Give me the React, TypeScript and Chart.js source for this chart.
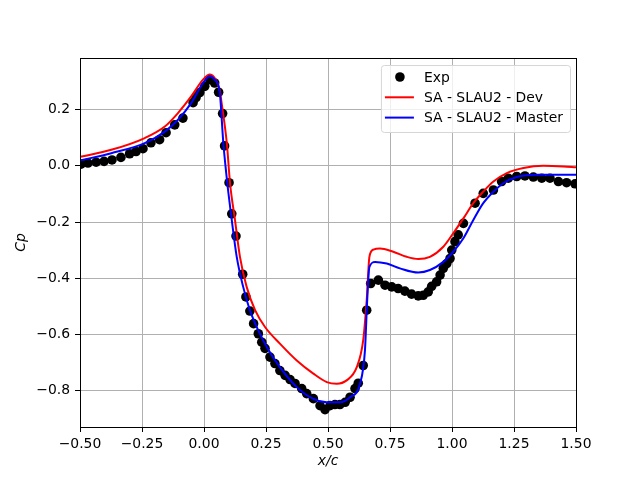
import { Chart, registerables } from "chart.js";
import React, { useEffect, useRef } from "react";

Chart.register(...registerables);

// experimental Cp
const expX = [
  -0.496, -0.468, -0.435, -0.403, -0.371, -0.335, -0.3, -0.274, -0.246, -0.214,
  -0.179, -0.153, -0.118, -0.085, -0.044, -0.032, -0.017, 0.003, 0.023, 0.043,
  0.059, 0.075, 0.083, 0.101, 0.112, 0.129, 0.156, 0.169, 0.185, 0.2,
  0.219, 0.233, 0.246, 0.266, 0.286, 0.306, 0.327, 0.347, 0.367, 0.394,
  0.414, 0.441, 0.468, 0.488, 0.508, 0.528, 0.548, 0.569, 0.589, 0.609,
  0.622, 0.642, 0.656, 0.672, 0.703, 0.73, 0.757, 0.783, 0.81, 0.837,
  0.864, 0.884, 0.904, 0.918, 0.938, 0.952, 0.965, 0.979, 0.992, 0.999,
  1.012, 1.025, 1.046, 1.093, 1.126, 1.167, 1.2, 1.227, 1.261, 1.294,
  1.328, 1.362, 1.395, 1.429, 1.462, 1.496,
];
const expY = [
  0.006, 0.01, 0.013, 0.016, 0.021, 0.03, 0.043, 0.051, 0.061, 0.082,
  0.093, 0.118, 0.146, 0.17, 0.225, 0.243, 0.261, 0.283, 0.307, 0.295,
  0.262, 0.186, 0.071, -0.06, -0.171, -0.25, -0.386, -0.467, -0.517, -0.562,
  -0.598, -0.628, -0.65, -0.681, -0.704, -0.729, -0.746, -0.761, -0.775, -0.793,
  -0.811, -0.829, -0.854, -0.868, -0.854, -0.85, -0.85, -0.842, -0.824, -0.793,
  -0.774, -0.711, -0.514, -0.419, -0.407, -0.425, -0.431, -0.437, -0.446, -0.457,
  -0.463, -0.461, -0.449, -0.429, -0.413, -0.389, -0.365, -0.348, -0.33, -0.3,
  -0.27, -0.246, -0.205, -0.133, -0.098, -0.086, -0.056, -0.044, -0.038, -0.036,
  -0.04, -0.044, -0.044, -0.056, -0.06, -0.064,
];

// SA - SLAU2 - Dev
const devX = [
  -0.5, -0.374, -0.239, -0.158, -0.105, -0.051, -0.004, 0.023, 0.043, 0.063,
  0.071, 0.092, 0.105, 0.125, 0.145, 0.172, 0.206, 0.246, 0.306, 0.374,
  0.441, 0.495, 0.535, 0.575, 0.616, 0.642, 0.656, 0.667, 0.683, 0.71,
  0.763, 0.817, 0.864, 0.911, 0.965, 1.005, 1.046, 1.086, 1.126, 1.167,
  1.221, 1.288, 1.368, 1.449, 1.5,
];
const devY = [
  0.032, 0.057, 0.099, 0.14, 0.188, 0.248, 0.307, 0.325, 0.313, 0.271,
  0.224, 0.081, -0.062, -0.193, -0.324, -0.431, -0.514, -0.574, -0.633, -0.693,
  -0.74, -0.77, -0.776, -0.764, -0.717, -0.621, -0.479, -0.324, -0.298, -0.294,
  -0.306, -0.324, -0.332, -0.324, -0.288, -0.24, -0.187, -0.133, -0.092, -0.056,
  -0.026, -0.008, 0.0, -0.002, -0.005,
];

// SA - SLAU2 - Master
const masterX = [
  -0.5, -0.374, -0.239, -0.158, -0.105, -0.051, -0.004, 0.023, 0.043, 0.063,
  0.078, 0.094, 0.112, 0.132, 0.158, 0.185, 0.219, 0.253, 0.306, 0.374,
  0.441, 0.495, 0.548, 0.589, 0.629, 0.649, 0.658, 0.667, 0.69, 0.737,
  0.79, 0.864, 0.911, 0.965, 1.005, 1.046, 1.086, 1.126, 1.167, 1.207,
  1.261, 1.342, 1.422, 1.5,
];
const masterY = [
  0.019, 0.045, 0.081, 0.122, 0.164, 0.224, 0.295, 0.319, 0.307, 0.265,
  0.081, -0.062, -0.193, -0.324, -0.431, -0.514, -0.586, -0.645, -0.717, -0.788,
  -0.83, -0.842, -0.842, -0.824, -0.776, -0.657, -0.479, -0.36, -0.342, -0.348,
  -0.365, -0.38, -0.371, -0.342, -0.306, -0.258, -0.193, -0.133, -0.092, -0.062,
  -0.04, -0.032, -0.032, -0.032,
];

const xTicks = [-0.5, -0.25, 0, 0.25, 0.5, 0.75, 1.0, 1.25, 1.5];
const yTicks = [-0.8, -0.6, -0.4, -0.2, 0.0, 0.2];

const pts = (xs: number[], ys: number[]) => xs.map((x, i) => ({ x, y: ys[i] }));
const minus = (s: string) => s.replace("-", "\u2212");
const FONT = "'DejaVu Sans', sans-serif";
const SIZE = 13.9;

// matplotlib-style box + legend inside the axes
const framePlugin = {
  id: "frame",
  afterDraw(chart: any) {
    const { ctx, chartArea } = chart;
    ctx.save();
    ctx.strokeStyle = "#000";
    ctx.lineWidth = 1;
    ctx.strokeRect(
      Math.round(chartArea.left) + 0.5,
      Math.round(chartArea.top) + 0.5,
      Math.round(chartArea.right - chartArea.left),
      Math.round(chartArea.bottom - chartArea.top)
    );

    const sets = [0, 1, 2].map((i) => chart.data.datasets[i]);
    ctx.font = `${SIZE}px ${FONT}`;
    const textW = Math.max(...sets.map((d: any) => ctx.measureText(d.label).width));
    const w = 43 + textW + 7;
    const h = 67;
    const bx = chartArea.right - 6 - w;
    const by = chartArea.top + 7;
    ctx.beginPath();
    ctx.roundRect(bx + 0.5, by + 0.5, w, h, 3);
    ctx.fillStyle = "rgba(255,255,255,0.8)";
    ctx.fill();
    ctx.strokeStyle = "#d6d6d6";
    ctx.stroke();
    ctx.textBaseline = "middle";
    sets.forEach((d: any, i: number) => {
      const cy = by + 12 + i * 20.3;
      if (d.showLine === false) {
        ctx.beginPath();
        ctx.arc(bx + 19, cy, 4.8, 0, Math.PI * 2);
        ctx.fillStyle = d.pointBackgroundColor;
        ctx.fill();
      } else {
        ctx.beginPath();
        ctx.moveTo(bx + 4, cy);
        ctx.lineTo(bx + 33, cy);
        ctx.strokeStyle = d.borderColor;
        ctx.lineWidth = 2;
        ctx.stroke();
      }
      ctx.fillStyle = "#000";
      ctx.fillText(d.label, bx + 43, cy + 1);
    });
    ctx.restore();
  },
};

const App: React.FC = () => {
  const canvasRef = useRef<HTMLCanvasElement | null>(null);

  useEffect(() => {
    if (!canvasRef.current) return;
    const tickFont = { family: FONT, size: SIZE };
    const chart = new Chart(canvasRef.current, {
      type: "line",
      data: {
        datasets: [
          {
            label: "Exp",
            data: pts(expX, expY),
            showLine: false,
            pointRadius: 4.8,
            pointBackgroundColor: "#000",
            pointBorderWidth: 0,
            borderColor: "#000",
            order: 3,
          },
          {
            label: "SA - SLAU2 - Dev",
            data: pts(devX, devY),
            borderColor: "#ff0000",
            borderWidth: 2,
            pointRadius: 0,
            cubicInterpolationMode: "monotone",
            order: 2,
          },
          {
            label: "SA - SLAU2 - Master",
            data: pts(masterX, masterY),
            borderColor: "#0000ff",
            borderWidth: 2,
            pointRadius: 0,
            cubicInterpolationMode: "monotone",
            order: 1,
          },
        ] as any,
      },
      options: {
        animation: false,
        responsive: false,
        devicePixelRatio: 1,
        layout: { padding: { left: 0, right: 64, top: 58, bottom: 0 } },
        plugins: { legend: { display: false }, tooltip: { enabled: false } },
        scales: {
          x: {
            type: "linear",
            min: -0.5,
            max: 1.5,
            afterFit: (s: any) => { s.height = 53; },
            afterBuildTicks: (s: any) => { s.ticks = xTicks.map((value) => ({ value })); },
            grid: { color: "#b0b0b0", lineWidth: 1, tickColor: "#000", tickLength: 5 },
            border: { color: "#000", width: 1 },
            ticks: {
              color: "#000",
              font: tickFont,
              padding: 4,
              maxRotation: 0,
              callback: (v: any) => minus(Number(v).toFixed(2)),
            },
            title: {
              display: true,
              text: "x/c",
              color: "#000",
              font: { family: FONT, size: SIZE, style: "italic" },
              padding: { top: 10, bottom: 10 },
            },
          },
          y: {
            type: "linear",
            min: -0.93,
            max: 0.384,
            afterFit: (s: any) => { s.width = 80; },
            afterBuildTicks: (s: any) => { s.ticks = yTicks.map((value) => ({ value })); },
            grid: { color: "#b0b0b0", lineWidth: 1, tickColor: "#000", tickLength: 5 },
            border: { color: "#000", width: 1 },
            ticks: {
              color: "#000",
              font: tickFont,
              padding: 5,
              callback: (v: any) => minus(Number(v).toFixed(1)),
            },
            title: {
              display: true,
              text: "Cp",
              color: "#000",
              font: { family: FONT, size: SIZE, style: "italic" },
              padding: { top: 13, bottom: 13 },
            },
          },
        },
      },
      plugins: [framePlugin],
    });
    return () => chart.destroy();
  }, []);

  return (
    <div style={{ position: "fixed", left: 0, top: 0, width: 640, height: 480, background: "#fff" }}>
      <canvas ref={canvasRef} width={640} height={480} />
    </div>
  );
};

export default App;
